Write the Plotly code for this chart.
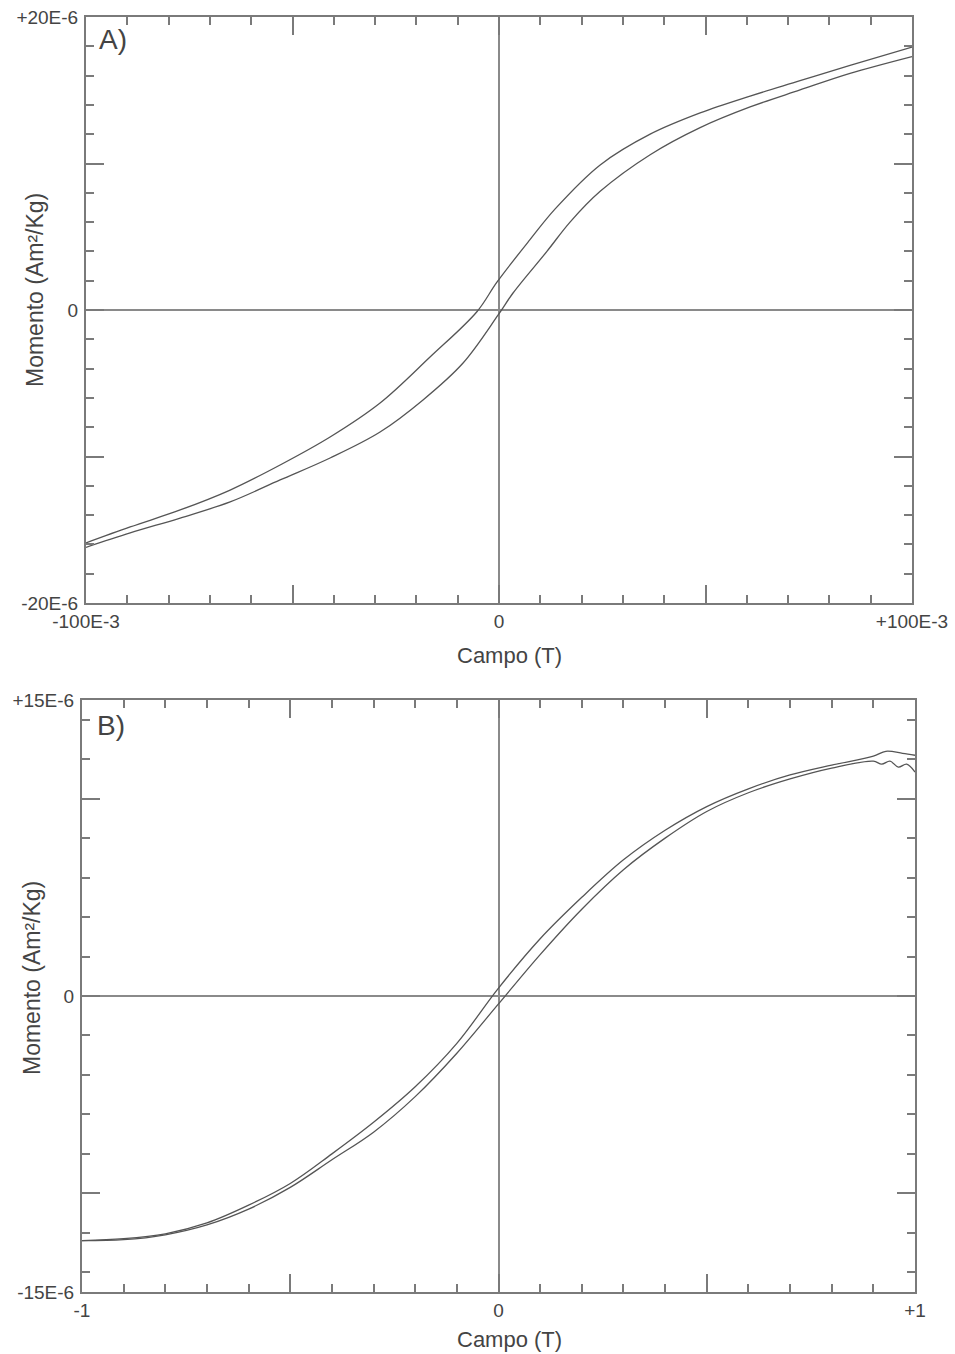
import plotly.graph_objects as go

# ---------- Panel A data (Campo in T, Momento in 1E-6 Am²/Kg) ----------
a_up_x = [0.1, 0.085, 0.0729, 0.0608, 0.0487, 0.0366, 0.0245, 0.0136, 0.0075, -0.0005, -0.0053,
          -0.0167, -0.0288, -0.0409, -0.053, -0.0651, -0.0772, -0.0893, -0.1]
a_up_y = [17.95, 16.7, 15.65, 14.6, 13.45, 12.0, 9.9, 6.9, 4.8, 1.9, -0.1,
          -3.21, -6.35, -8.67, -10.58, -12.29, -13.65, -14.81, -15.9]
a_lo_x = [-0.1, -0.0893, -0.0772, -0.0651, -0.053, -0.0409, -0.0288, -0.0184, -0.0087, -0.0002,
          0.0034, 0.0116, 0.0172, 0.0245, 0.0366, 0.0487, 0.0608, 0.0729, 0.085, 0.1]
a_lo_y = [-16.2, -15.22, -14.2, -13.1, -11.6, -10.1, -8.33, -6.14, -3.62, -0.34,
          1.16, 4.0, 6.0, 8.1, 10.6, 12.45, 13.86, 15.02, 16.15, 17.3]

# ---------- Panel B data ----------
b_up_x = [1.0, 0.97, 0.93, 0.9, 0.8, 0.7, 0.6, 0.5, 0.4, 0.3, 0.2, 0.1, 0.0,
          -0.1, -0.2, -0.3, -0.4, -0.5, -0.6, -0.7, -0.8, -0.9, -1.0]
b_up_y = [12.2, 12.3, 12.4, 12.15, 11.7, 11.2, 10.5, 9.6, 8.4, 6.9, 5.0, 2.9, 0.4,
          -2.4, -4.6, -6.4, -8.0, -9.5, -10.6, -11.5, -12.05, -12.3, -12.4]
b_lo_x = [-1.0, -0.9, -0.8, -0.7, -0.6, -0.5, -0.4, -0.3, -0.2, -0.1, 0.0, 0.1, 0.2,
          0.3, 0.4, 0.5, 0.6, 0.7, 0.8, 0.9, 0.92, 0.94, 0.96, 0.98, 1.0]
b_lo_y = [-12.4, -12.35, -12.1, -11.6, -10.8, -9.7, -8.3, -6.9, -5.1, -2.9, -0.4, 2.1, 4.4,
          6.4, 8.0, 9.35, 10.3, 11.0, 11.55, 11.9, 11.75, 11.9, 11.6, 11.75, 11.35]

LINE = "#555555"
AX = "#7a7a7a"
TXT = "#444444"
FONT = "Liberation Sans, Arial, sans-serif"

fig = go.Figure()
for xs, ys, xa, ya in [(a_up_x, a_up_y, "x", "y"), (a_lo_x, a_lo_y, "x", "y"),
                       (b_up_x, b_up_y, "x2", "y2"), (b_lo_x, b_lo_y, "x2", "y2")]:
    fig.add_trace(go.Scatter(x=xs, y=ys, mode="lines", xaxis=xa, yaxis=ya,
                             line=dict(color=LINE, width=1.3, shape="spline", smoothing=1.0),
                             showlegend=False, hoverinfo="skip"))

def axis_common():
    return dict(showline=True, linecolor=AX, linewidth=2, mirror="ticks", automargin=False,
                ticks="inside", ticklen=18, tickwidth=1.5, tickcolor=AX,
                showgrid=False, zeroline=True, zerolinecolor="#8a8a8a", zerolinewidth=1.5,
                tickfont=dict(family=FONT, size=19, color=TXT), fixedrange=True)

def minor(vals):
    return dict(tickmode="array", ticks="inside", ticklen=8, tickcolor=AX, tickwidth=1.5, tickvals=vals)

fig.update_layout(
    xaxis=dict(**axis_common(), domain=[86/955, 912/955], range=[-0.1, 0.1], anchor="y",
               tickmode="array", tickvals=[-0.1, -0.05, 0, 0.05, 0.1],
               ticktext=["-100E-3", "", "0", "", "+100E-3"],
               minor=minor([-0.09, -0.08, -0.07, -0.06, -0.04, -0.03, -0.02, -0.01,
                            0.01, 0.02, 0.03, 0.04, 0.06, 0.07, 0.08, 0.09])),
    yaxis=dict(**axis_common(), domain=[1 - 603/1354, 1 - 17/1354], range=[-20, 20], anchor="x",
               tickmode="array", tickvals=[-20, -10, 0, 10, 20],
               ticktext=["-20E-6", "", "0", "", "+20E-6"], ticklabelstandoff=2,
               minor=minor([-18, -16, -14, -12, -8, -6, -4, -2, 2, 4, 6, 8, 12, 14, 16, 18])),
    xaxis2=dict(**axis_common(), domain=[82/955, 915/955], range=[-1, 1], anchor="y2",
                tickmode="array", tickvals=[-1, -0.5, 0, 0.5, 1],
                ticktext=["-1", "", "0", "", "+1"],
                minor=minor([-0.9, -0.8, -0.7, -0.6, -0.4, -0.3, -0.2, -0.1,
                             0.1, 0.2, 0.3, 0.4, 0.6, 0.7, 0.8, 0.9])),
    yaxis2=dict(**axis_common(), domain=[1 - 1292/1354, 1 - 700/1354], range=[-15, 15], anchor="x2",
                tickmode="array", tickvals=[-15, -10, 0, 10, 15],
                ticktext=["-15E-6", "", "0", "", "+15E-6"], ticklabelstandoff=2,
                minor=minor([-14, -12, -8, -6, -4, -2, 2, 4, 6, 8, 12, 14])),
)

ann = []
def txt(x, y, t, size, angle=0, xanchor="center", yanchor="middle"):
    ann.append(dict(x=x, y=y, xref="paper", yref="paper", text=t, showarrow=False,
                    textangle=angle, xanchor=xanchor, yanchor=yanchor,
                    font=dict(family=FONT, size=size, color=TXT)))

txt(97/955, 1 - 40/1354, "A)", 28, xanchor="left")
txt(95/955, 1 - 725/1354, "B)", 28, xanchor="left")
txt(35/955, 1 - 290/1354, "Momento (Am²/Kg)", 23, angle=-90)
txt(32/955, 1 - 978/1354, "Momento (Am²/Kg)", 23, angle=-90)
txt(509/955, 1 - 655/1354, "Campo (T)", 22)
txt(509/955, 1 - 1339/1354, "Campo (T)", 22)

fig.update_layout(annotations=ann, width=955, height=1354,
                  margin=dict(l=0, r=0, t=0, b=0, autoexpand=False),
                  paper_bgcolor="white", plot_bgcolor="white")

fig.write_html("out.html", config={"displayModeBar": False},
               post_script="document.body.style.margin='0';document.body.style.overflow='hidden';")
